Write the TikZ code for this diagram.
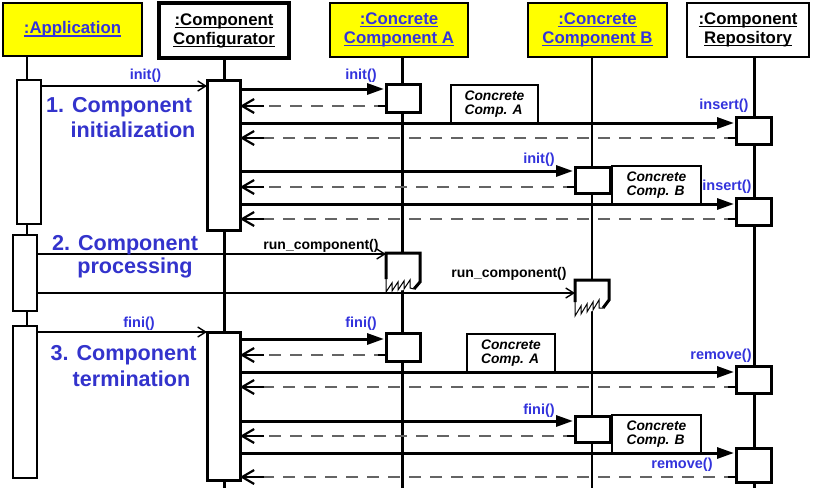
\documentclass[tikz,border=0pt]{standalone}
\usepackage{fontspec}
\setmainfont{Liberation Sans}
\usetikzlibrary{arrows.meta,calc}
\definecolor{hyel}{RGB}{255,255,0}
\definecolor{lnk}{RGB}{51,51,220}
\definecolor{lblc}{RGB}{51,51,204}
\definecolor{dsh}{RGB}{100,100,100}
\newcommand\myul[1]{\setbox0=\hbox{#1}\rlap{\rule[-2.8pt]{\wd0}{1.3pt}}\box0}
\newcommand\retmsg[2]{%
  \draw[retline] #1 -- #2;
  \draw[line width=2.5pt] #1 -- ($#1!8pt!#2$);
  \draw[line width=2.5pt,-{Straight Barb[length=12pt,width=14pt,line width=2.2pt]}] ($#2!24pt!#1$) -- #2;
}
\tikzset{
  hdr/.style={draw, anchor=north west, inner sep=0pt, outer sep=0pt, align=center,
    font=\fontsize{16.8}{19}\selectfont\bfseries},
  act/.style={draw, fill=white, line width=3pt, anchor=north west, inner sep=0pt, outer sep=0pt},
  actthin/.style={act, line width=1.5pt},
  notebox/.style={draw, fill=white, line width=2.5pt, anchor=north west, inner sep=0pt, outer sep=0pt,
    align=left, font=\fontsize{13.8}{14}\selectfont\bfseries\itshape},
  life/.style={line width=3pt},
  call/.style={line width=3pt, -{Triangle[length=17pt,width=11pt]}, shorten >=2pt},
  async/.style={line width=1.5pt, -{Straight Barb[length=8pt,width=10pt,line width=1.4pt]}},
  retline/.style={line width=1.3pt, dsh, dash pattern=on 12pt off 9pt},
  msg/.style={font=\fontsize{14.5}{16}\selectfont\bfseries, text=lnk, anchor=base, inner sep=0pt},
  runlbl/.style={font=\fontsize{14}{16}\selectfont\bfseries, text=black, anchor=base, inner sep=0pt},
  big/.style={font=\fontsize{21.6}{24}\selectfont\bfseries, text=lblc, anchor=base, inner sep=0pt},
}
\begin{document}
\begin{tikzpicture}[x=1pt,y=-1pt]
\useasboundingbox (0,0) rectangle (814,488);
\coordinate (bot) at (0,488);
\coordinate (appl) at (27,0);
% headers
\node[hdr, fill=hyel, line width=2.5pt, minimum width=139pt, minimum height=53pt, text=lnk] (app) at (3,3) {\myul{:Application}};
\node[hdr, fill=white, line width=3.5pt, minimum width=130pt, minimum height=55pt] (cfg) at (159,3) {\myul{:Component}\\\myul{Configurator}};
\node[hdr, fill=hyel, line width=2.5pt, minimum width=138pt, minimum height=54pt, text=lnk] (ca) at (330,3) {\myul{:Concrete}\\\myul{Component A}};
\node[hdr, fill=hyel, line width=2.5pt, minimum width=139pt, minimum height=54pt, text=lnk] (cb) at (528,3) {\myul{:Concrete}\\\myul{Component B}};
\node[hdr, fill=white, line width=2pt, minimum width=122pt, minimum height=54pt] (rep) at (687,3) {\myul{:Component}\\\myul{Repository}};
% activation nodes (defined first for lifeline positions)
\node[actthin, minimum width=24pt, minimum height=144pt] (ap1) at (17,80) {};
\node[actthin, minimum width=24pt, minimum height=76pt] (ap2) at (13,235) {};
\node[actthin, minimum width=24pt, minimum height=152pt] (ap3) at (13,326) {};
% lifelines
\draw[line width=2pt] (app.south -| appl) -- (ap3.south -| appl);
\draw[life] (cfg.south) -- (cfg.south |- bot);
\draw[life] (ca.south -| 402,0) -- (402,488);
\draw[line width=2pt] (cb.south -| 592,0) -- (592,488);
\draw[life] (rep.south -| 754,0) -- (754,488);
% redraw application activations on top of lifeline
\node[actthin, minimum width=24pt, minimum height=144pt] (ap1) at (17,80) {};
\node[actthin, minimum width=24pt, minimum height=76pt] (ap2) at (13,235) {};
\node[actthin, minimum width=24pt, minimum height=152pt] (ap3) at (13,326) {};
% other activations
\node[act, minimum width=33pt, minimum height=150pt] (cfg1) at (207,80) {};
\node[act, minimum width=33pt, minimum height=148pt] (cfg2) at (207,332) {};
\node[act, minimum width=34pt, minimum height=28pt] (a1) at (386,84) {};
\node[act, minimum width=34pt, minimum height=28pt] (a3) at (386,333) {};
\node[act, minimum width=35pt, minimum height=26pt] (b1) at (575,167) {};
\node[act, minimum width=35pt, minimum height=26pt] (b3) at (575,416) {};
\node[act, minimum width=35pt, minimum height=27pt] (r1) at (736,117) {};
\node[act, minimum width=35pt, minimum height=27pt] (r2) at (736,198) {};
\node[act, minimum width=35pt, minimum height=27pt] (r3) at (736,366) {};
\node[act, minimum width=35pt, minimum height=34pt] (r4) at (736,448) {};
% run_component activations (torn bottom)
\node[anchor=north west, minimum width=34pt, minimum height=38pt, inner sep=0pt, outer sep=0pt] (a2) at (386,253) {};
\fill[white] (386,253) -- (420,253) -- (420,282) -- (414,289) -- (386,292) -- cycle;
\draw[line width=3pt] (386,279) -- (386,253) -- (420,253) -- (420,282) -- (414,289);
\draw[line width=1pt] (386,276) -- (386,292) -- (392,283) -- (392,291) -- (398,282) -- (398,290) -- (404,281) -- (404,289) -- (410,280) -- (410,288) -- (414,289);
\node[anchor=north west, minimum width=34pt, minimum height=36pt, inner sep=0pt, outer sep=0pt] (b2) at (575,280) {};
\fill[white] (575,280) -- (609,280) -- (609,300) -- (603,308) -- (575,316) -- cycle;
\draw[line width=3pt] (575,302) -- (575,280) -- (609,280) -- (609,300) -- (603,308);
\draw[line width=1pt] (575,300) -- (575,316) -- (581,306) -- (581,314) -- (587,304) -- (587,312) -- (593,302) -- (593,310) -- (599,300) -- (599,308) -- (603,308);
% notes
\node[notebox, minimum width=87pt, minimum height=38pt] (nA1) at (451,85) {Concrete\\Comp. A};
\node[notebox, minimum width=89pt, minimum height=38pt] (nB1) at (612,166) {Concrete\\Comp. B};
\node[notebox, minimum width=88pt, minimum height=38pt] (nA2) at (467,334) {Concrete\\Comp. A};
\node[notebox, minimum width=89pt, minimum height=38pt] (nB2) at (612,415) {Concrete\\Comp. B};
% message levels
\coordinate (y1) at (0,86);
\coordinate (y2) at (0,89);
\coordinate (y3) at (0,106);
\coordinate (y4) at (0,123);
\coordinate (y5) at (0,138);
\coordinate (y6) at (0,171);
\coordinate (y7) at (0,187);
\coordinate (y8) at (0,204);
\coordinate (y9) at (0,219);
\coordinate (y10) at (0,254);
\coordinate (y11) at (0,293);
\coordinate (y12) at (0,332);
\coordinate (y13) at (0,339);
\coordinate (y14) at (0,355);
\coordinate (y15) at (0,372);
\coordinate (y16) at (0,387);
\coordinate (y17) at (0,421);
\coordinate (y18) at (0,436);
\coordinate (y19) at (0,453);
\coordinate (y20) at (0,477);
% messages: initialization
\draw[async] (ap1.east |- y1) -- (cfg1.west |- y1);
\draw[call] (cfg1.east |- y2) -- (a1.west |- y2);
\retmsg{(a1.west |- y3)}{(cfg1.east |- y3)}
\draw[call] (cfg1.east |- y4) -- (r1.west |- y4);
\retmsg{(r1.west |- y5)}{(cfg1.east |- y5)}
\draw[call] (cfg1.east |- y6) -- (b1.west |- y6);
\retmsg{(b1.west |- y7)}{(cfg1.east |- y7)}
\draw[call] (cfg1.east |- y8) -- (r2.west |- y8);
\retmsg{(r2.west |- y9)}{(cfg1.east |- y9)}
% processing
\draw[async] (ap2.east |- y10) -- (a2.west |- y10);
\draw[async] (ap2.east |- y11) -- (b2.west |- y11);
% termination
\draw[async] (ap3.east |- y12) -- (cfg2.west |- y12);
\draw[call] (cfg2.east |- y13) -- (a3.west |- y13);
\retmsg{(a3.west |- y14)}{(cfg2.east |- y14)}
\draw[call] (cfg2.east |- y15) -- (r3.west |- y15);
\retmsg{(r3.west |- y16)}{(cfg2.east |- y16)}
\draw[call] (cfg2.east |- y17) -- (b3.west |- y17);
\retmsg{(b3.west |- y18)}{(cfg2.east |- y18)}
\draw[call] (cfg2.east |- y19) -- (r4.west |- y19);
\retmsg{(r4.west |- y20)}{(cfg2.east |- y20)}
% message labels
\node[msg] (t1) at (145.5,79) {init()};
\node[msg] (t2) at (361,79) {init()};
\node[msg] (t3) at (724,109) {insert()};
\node[msg] (t4) at (539,163) {init()};
\node[msg] (t5) at (727,190) {insert()};
\node[runlbl] (t6) at (321,249) {run\_component()};
\node[runlbl] (t7) at (509,277) {run\_component()};
\node[msg] (t8) at (139,327) {fini()};
\node[msg] (t9) at (361,327) {fini()};
\node[msg] (t10) at (721,359) {remove()};
\node[msg] (t11) at (539,414) {fini()};
\node[msg] (t12) at (682,468) {remove()};
% phase labels
\node[big] (p1a) at (119,112) {1. Component};
\node[big] (p1b) at (133,137) {initialization};
\node[big] (p2a) at (125,250) {2. Component};
\node[big] (p2b) at (135,273) {processing};
\node[big] (p3a) at (123.5,360) {3. Component};
\node[big] (p3b) at (131.5,386) {termination};
\end{tikzpicture}
\end{document}
